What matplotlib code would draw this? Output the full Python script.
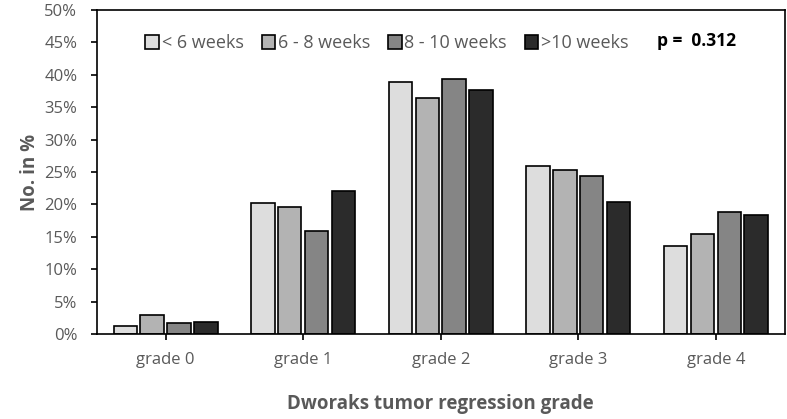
import numpy as np
import matplotlib
matplotlib.use('Agg')
import matplotlib.pyplot as plt
from matplotlib.ticker import PercentFormatter

# Daten
grades = ['grade 0', 'grade 1', 'grade 2', 'grade 3', 'grade 4']
groups = ['< 6 weeks', '6 - 8 weeks', '8 - 10 weeks', '>10 weeks']
lt6 = [1.3, 20.2, 38.9, 26.0, 13.6]
w6_8 = [3.0, 19.6, 36.4, 25.3, 15.5]
w8_10 = [1.7, 15.9, 39.4, 24.4, 18.8]
gt10 = [1.9, 22.1, 37.7, 20.3, 18.4]
p_text = 'p =  0.312'

colors = ['#dddddd', '#b3b3b3', '#858585', '#2b2b2b']
grey = '#595959'

plt.rcParams['font.family'] = ['Open Sans', 'DejaVu Sans']

fig, ax = plt.subplots(figsize=(7.87, 4.19), dpi=100)
fig.subplots_adjust(left=0.123, right=0.997, top=0.976, bottom=0.203)

x = np.arange(len(grades))
width = 0.17
step = 0.195
series = [lt6, w6_8, w8_10, gt10]
for i, vals in enumerate(series):
    ax.bar(x + (i - 1.5) * step, vals, width, color=colors[i],
           edgecolor='black', linewidth=1.2, label=groups[i])

ax.set_xlim(-0.5, 4.5)
ax.set_ylim(0, 50)
ax.set_yticks(np.arange(0, 51, 5))
ax.yaxis.set_major_formatter(PercentFormatter(decimals=0))
ax.set_xticks(x)
ax.set_xticklabels(grades)
ax.tick_params(axis='both', colors='black', labelcolor=grey, labelsize=12,
               length=4, width=1.2)
ax.tick_params(axis='x', pad=9)
ax.tick_params(axis='y', pad=10)
for s in ax.spines.values():
    s.set_linewidth(1.2)

ax.set_ylabel('No. in %', fontsize=13.5, fontweight='bold', color=grey, labelpad=3)
ax.set_xlabel('Dworaks tumor regression grade', fontsize=13.5,
              fontweight='bold', color=grey, labelpad=19)

leg = ax.legend(loc='upper left', bbox_to_anchor=(0.047, 0.975), ncol=4,
                frameon=False, fontsize=13, handlelength=0.75,
                handleheight=0.75, handletextpad=0.15, columnspacing=1.0)
for t in leg.get_texts():
    t.set_color(grey)

ax.text(0.815, 0.905, p_text, transform=ax.transAxes, fontsize=12.5,
        fontweight='bold', color='black', ha='left', va='center')

fig.savefig('out.png', dpi=100)
